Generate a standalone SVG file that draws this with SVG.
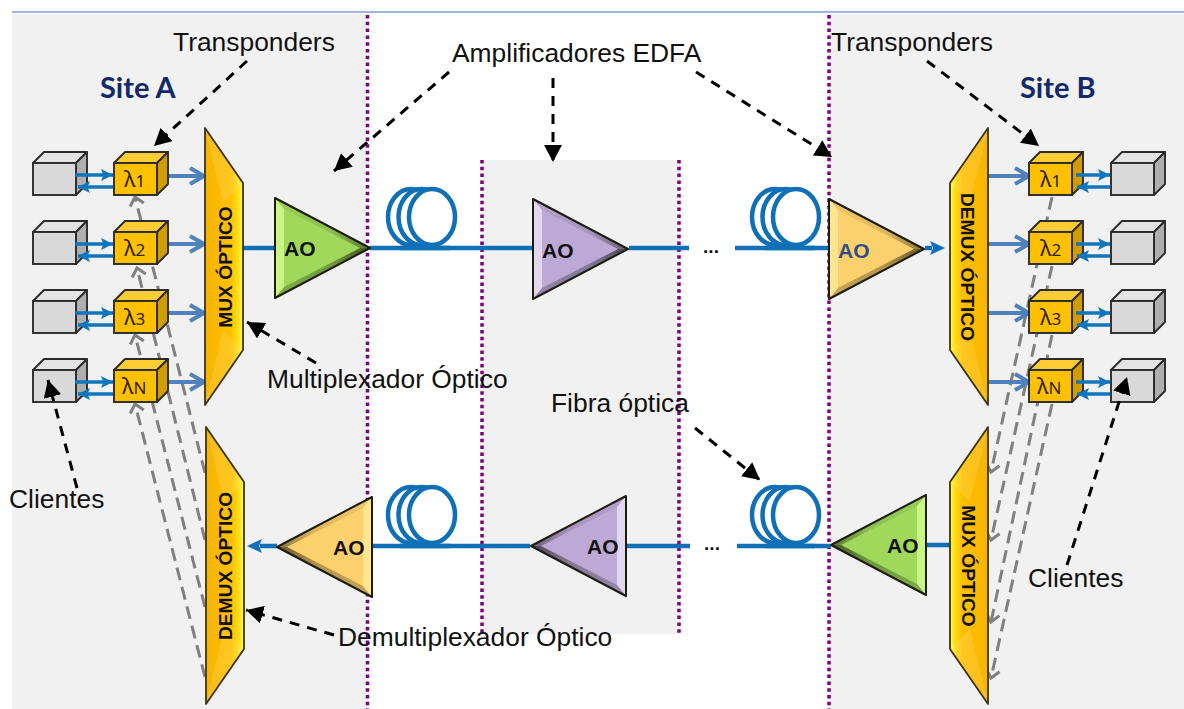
<svg xmlns="http://www.w3.org/2000/svg" xmlns:xlink="http://www.w3.org/1999/xlink" width="1184" height="709" viewBox="0 0 1184 709">
<style>
text{font-family:"Liberation Sans",Arial,sans-serif;fill:#111}
.lbl{font-size:26.4px}
.site{font-family:Lato,"Open Sans",sans-serif;font-weight:700;font-size:29px;fill:#12296b}
.ao{font-size:21px;font-weight:700}
.mt{font-size:19.2px;font-weight:700;text-anchor:middle}
.lam{font-family:"Noto Sans",sans-serif;font-size:22px;fill:#2e2200}
.lam tspan{font-size:17px}
.dots{font-size:19px;text-anchor:middle;font-weight:700}
.pd{stroke:#800080;stroke-width:3.500;stroke-dasharray:3.500 3.300;fill:none}
.fiber{stroke:#0f70b7;stroke-width:4.500;fill:none}
.coil{stroke:#0f70b7;stroke-width:4.500;fill:#fff}
.cd{stroke:#808080;stroke-width:3;stroke-dasharray:13 7;fill:none;marker-end:url(#mGray)}
.bb{stroke:#4f81bd;stroke-width:4;fill:none;marker-end:url(#mBlue)}
.sb{stroke:#0f75bc;stroke-width:3.500;fill:none;marker-end:url(#mSmall)}
.call{stroke:#000;stroke-width:3;stroke-dasharray:10 8;fill:none;marker-end:url(#mBlack)}
.client{--fr:#d9d9d9;--tp:#e4e4e4;--sd:#afafaf}
.tr{--fr:#ffc000;--tp:#ffcc33;--sd:#cf9d00}
.green{--b:#9fd85a;--l:#c9f585}
.purple{--b:#bda9d6;--l:#e2d6f0}
.orange{--b:#fcd06c;--l:#ffe58f}
</style>
<defs>
<marker id="mBlack" markerUnits="userSpaceOnUse" markerWidth="18" markerHeight="18" refX="19" refY="10" orient="auto" viewBox="0 0 20 20"><path d="M0,0 L19,10 L0,20 Z" fill="#000"/></marker>
<marker id="mGray" markerUnits="userSpaceOnUse" markerWidth="20" markerHeight="20" refX="10" refY="10" orient="auto" viewBox="0 0 20 20"><path d="M2,3 L10,10 L2,17" fill="none" stroke="#808080" stroke-width="3"/></marker>
<marker id="mBlue" markerUnits="userSpaceOnUse" markerWidth="24" markerHeight="24" refX="20" refY="12" orient="auto" viewBox="0 0 24 24"><path d="M6,4 L20,12 L6,20" fill="none" stroke="#4f81bd" stroke-width="4"/></marker>
<marker id="mSmall" markerUnits="userSpaceOnUse" markerWidth="16" markerHeight="16" refX="13" refY="8" orient="auto" viewBox="0 0 16 16"><path d="M1,2 L13,8 L1,14 L3.500,8 Z" fill="#0f75bc"/></marker>
<linearGradient id="gMux" x1="0" x2="1" y1="0" y2="0"><stop offset="0" stop-color="#f8b400"/><stop offset=".68" stop-color="#ffc000"/><stop offset=".88" stop-color="#ffdf1a"/><stop offset="1" stop-color="#ffff40"/></linearGradient>
<linearGradient id="gTop" x1="0" x2="1" y1="0" y2="0"><stop offset="0" stop-color="#000" stop-opacity=".04"/><stop offset=".6" stop-color="#000" stop-opacity=".12"/><stop offset="1" stop-color="#000" stop-opacity=".45"/></linearGradient>
<linearGradient id="gBot" x1="0" x2="1" y1="0" y2="0"><stop offset="0" stop-color="#000" stop-opacity=".2"/><stop offset=".6" stop-color="#000" stop-opacity=".3"/><stop offset="1" stop-color="#000" stop-opacity=".6"/></linearGradient>
<g id="cube">
<polygon points="0,0 11,-11 54,-11 43,0" style="fill:var(--tp)" stroke="#2b2b2b" stroke-width="1.900" stroke-linejoin="round"/>
<polygon points="43,0 54,-11 54,21 43,32" style="fill:var(--sd)" stroke="#2b2b2b" stroke-width="1.900" stroke-linejoin="round"/>
<rect x="0" y="0" width="43" height="32" style="fill:var(--fr)" stroke="#2b2b2b" stroke-width="1.900"/>
</g>
<g id="amp">
<polygon points="0,-50 95,0 0,50" style="fill:var(--b)"/>
<polygon points="0,-50 9,-39 9,39 0,50" style="fill:var(--l)"/>
<polygon points="0,-50 95,0 85,0 9,-39" fill="url(#gTop)"/>
<polygon points="0,50 95,0 85,0 9,39" fill="url(#gBot)"/>
<polygon points="0,-50 95,0 0,50" fill="none" stroke="#1c1c10" stroke-width="2" stroke-linejoin="round"/>
</g>
<g id="mux">
<polygon points="0,0 38,55 38,222 0,277" fill="url(#gMux)"/>
<polygon points="0,0 38,55 18,75" fill="#fff" opacity=".12"/>
<polygon points="0,277 38,222 18,202" fill="#fff" opacity=".12"/>
<polygon points="0,0 38,55 38,222 0,277" fill="none" stroke="#3a3316" stroke-width="1.800" stroke-linejoin="round"/>
</g>
<g id="coil">
<ellipse class="coil" cx="-21" cy="0" rx="23" ry="28"/>
<ellipse class="coil" cx="-10.500" cy="0" rx="23" ry="28"/>
<ellipse class="coil" cx="0" cy="0" rx="23" ry="28"/>
</g>
</defs>

<g id="background">
<rect width="1184" height="709" fill="#fff"/>
<rect x="12" y="14" width="355" height="695" fill="#f1f1f1"/>
<rect x="829" y="14" width="355" height="695" fill="#f1f1f1"/>
<rect x="482" y="160" width="198" height="474" fill="#f1f1f1"/>
<line x1="12" y1="12" x2="1184" y2="12" stroke="#7f9fd0" stroke-width="1.500"/>
<line class="pd" x1="367.500" y1="15" x2="367.500" y2="709"/>
<line class="pd" x1="829" y1="15" x2="829" y2="709"/>
<line class="pd" x1="482" y1="160" x2="482" y2="634"/>
<line class="pd" x1="679" y1="160" x2="679" y2="634"/>
</g>

<g id="connectors">
<line class="fiber" x1="243" y1="248" x2="275" y2="248"/>
<line class="fiber" x1="370" y1="248" x2="533" y2="248"/>
<line class="fiber" x1="629" y1="248" x2="689" y2="248"/>
<line class="fiber" x1="735" y1="248" x2="829" y2="248"/>
<line class="fiber" x1="925" y1="248" x2="932" y2="248"/>
<path d="M930,241 L945,248 L930,255 L933,248 Z" fill="#0f70b7"/>
<line class="fiber" x1="372" y1="546" x2="530" y2="546"/>
<line class="fiber" x1="626" y1="546" x2="690" y2="546"/>
<line class="fiber" x1="737" y1="546" x2="830" y2="546"/>
<line class="fiber" x1="926" y1="545" x2="950" y2="545"/>
<line class="fiber" x1="260" y1="546" x2="277" y2="546"/>
<path d="M262,539 L247,546 L262,553 L259,546 Z" fill="#0f70b7"/>

<line class="cd" x1="205" y1="473" x2="135" y2="197"/>
<line class="cd" x1="205" y1="540" x2="137" y2="268"/>
<line class="cd" x1="205" y1="607" x2="135" y2="335"/>
<line class="cd" x1="205" y1="677" x2="135" y2="404"/>
<line class="cd" x1="1052" y1="197" x2="991" y2="472"/>
<line class="cd" x1="1052" y1="266" x2="991" y2="540"/>
<line class="cd" x1="1052" y1="335" x2="991" y2="622"/>
<line class="cd" x1="1052" y1="404" x2="991" y2="678"/>

<line class="bb" x1="160" y1="176" x2="204" y2="176"/>
<line class="bb" x1="160" y1="244" x2="204" y2="244"/>
<line class="bb" x1="160" y1="313" x2="204" y2="313"/>
<line class="bb" x1="160" y1="382" x2="204" y2="382"/>
<line class="bb" x1="988" y1="176" x2="1029" y2="176"/>
<line class="bb" x1="988" y1="244" x2="1029" y2="244"/>
<line class="bb" x1="988" y1="313" x2="1029" y2="313"/>
<line class="bb" x1="988" y1="382" x2="1029" y2="382"/>
</g>

<g id="coil-1"><use xlink:href="#coil" href="#coil" x="432" y="217"/></g>
<g id="coil-2"><use xlink:href="#coil" href="#coil" x="796" y="217"/></g>
<g id="coil-3"><use xlink:href="#coil" href="#coil" x="432" y="515"/></g>
<g id="coil-4"><use xlink:href="#coil" href="#coil" x="796" y="515"/></g>
<g id="fiber-over">
<line class="fiber" x1="400" y1="248" x2="450" y2="248"/>
<line class="fiber" x1="765" y1="248" x2="815" y2="248"/>
<line class="fiber" x1="400" y1="546" x2="450" y2="546"/>
<line class="fiber" x1="765" y1="546" x2="815" y2="546"/>
</g>
<text class="dots" x="711" y="253">...</text>
<text class="dots" x="712" y="550">...</text>

<g id="client-a1" class="client"><use href="#cube" x="33" y="163"/></g>
<g id="client-a2" class="client"><use href="#cube" x="33" y="232"/></g>
<g id="client-a3" class="client"><use href="#cube" x="33" y="301"/></g>
<g id="client-a4" class="client"><use href="#cube" x="33" y="370"/></g>
<g id="tr-a1" class="tr"><use href="#cube" x="114" y="163"/><text class="lam" x="124" y="187">λ<tspan>1</tspan></text></g>
<g id="tr-a2" class="tr"><use href="#cube" x="114" y="232"/><text class="lam" x="124" y="256">λ<tspan>2</tspan></text></g>
<g id="tr-a3" class="tr"><use href="#cube" x="114" y="301"/><text class="lam" x="124" y="325">λ<tspan>3</tspan></text></g>
<g id="tr-a4" class="tr"><use href="#cube" x="114" y="370"/><text class="lam" x="122" y="394">λ<tspan>N</tspan></text></g>
<g id="tr-b1" class="tr"><use href="#cube" x="1029" y="163"/><text class="lam" x="1040" y="187">λ<tspan>1</tspan></text></g>
<g id="tr-b2" class="tr"><use href="#cube" x="1029" y="232"/><text class="lam" x="1040" y="256">λ<tspan>2</tspan></text></g>
<g id="tr-b3" class="tr"><use href="#cube" x="1029" y="301"/><text class="lam" x="1040" y="325">λ<tspan>3</tspan></text></g>
<g id="tr-b4" class="tr"><use href="#cube" x="1029" y="370"/><text class="lam" x="1037" y="394">λ<tspan>N</tspan></text></g>
<g id="client-b1" class="client"><use href="#cube" x="1111" y="163"/></g>
<g id="client-b2" class="client"><use href="#cube" x="1111" y="232"/></g>
<g id="client-b3" class="client"><use href="#cube" x="1111" y="301"/></g>
<g id="client-b4" class="client"><use href="#cube" x="1111" y="370"/></g>

<g id="client-arrows">
<line class="sb" x1="75" y1="175" x2="113" y2="175"/><line class="sb" x1="113" y1="187" x2="78" y2="187"/>
<line class="sb" x1="75" y1="244" x2="113" y2="244"/><line class="sb" x1="113" y1="256" x2="78" y2="256"/>
<line class="sb" x1="75" y1="313" x2="113" y2="313"/><line class="sb" x1="113" y1="325" x2="78" y2="325"/>
<line class="sb" x1="75" y1="382" x2="113" y2="382"/><line class="sb" x1="113" y1="394" x2="78" y2="394"/>
<line class="sb" x1="1076" y1="175" x2="1110" y2="175"/><line class="sb" x1="1110" y1="187" x2="1077" y2="187"/>
<line class="sb" x1="1076" y1="244" x2="1110" y2="244"/><line class="sb" x1="1110" y1="256" x2="1077" y2="256"/>
<line class="sb" x1="1076" y1="313" x2="1110" y2="313"/><line class="sb" x1="1110" y1="325" x2="1077" y2="325"/>
<line class="sb" x1="1076" y1="382" x2="1110" y2="382"/><line class="sb" x1="1110" y1="394" x2="1077" y2="394"/>
</g>

<g id="mux-a"><use href="#mux" transform="translate(205,128)"/><text class="mt" transform="translate(232,267) rotate(-90)">MUX ÓPTICO</text></g>
<g id="demux-a"><use href="#mux" transform="translate(206,427)"/><text class="mt" transform="translate(232,566) rotate(-90)">DEMUX ÓPTICO</text></g>
<g id="demux-b"><use href="#mux" transform="translate(988,128) scale(-1,1)"/><text class="mt" transform="translate(961,267) rotate(90)">DEMUX ÓPTICO</text></g>
<g id="mux-b"><use href="#mux" transform="translate(988,427) scale(-1,1)"/><text class="mt" transform="translate(962,566) rotate(90)">MUX ÓPTICO</text></g>

<g id="ao-top-a" class="green"><use href="#amp" transform="translate(275,248)"/><text class="ao" x="284" y="256">AO</text></g>
<g id="ao-top-m" class="purple"><use href="#amp" transform="translate(533,249)"/><text class="ao" x="542" y="258">AO</text></g>
<g id="ao-top-b" class="orange"><use href="#amp" transform="translate(829,249)"/><text class="ao" x="838" y="258" style="fill:#2f4f86">AO</text></g>
<g id="ao-bot-a" class="orange"><use href="#amp" transform="translate(372,547) scale(-1,1)"/><text class="ao" x="333" y="555">AO</text></g>
<g id="ao-bot-m" class="purple"><use href="#amp" transform="translate(626,546) scale(-1,1)"/><text class="ao" x="587" y="554">AO</text></g>
<g id="ao-bot-b" class="green"><use href="#amp" transform="translate(926,545) scale(-1,1)"/><text class="ao" x="887" y="553">AO</text></g>

<g id="callouts">
<line class="call" x1="247" y1="61" x2="154" y2="146"/>
<line class="call" x1="927" y1="61" x2="1039" y2="146"/>
<line class="call" x1="449" y1="72" x2="334" y2="171"/>
<line class="call" x1="553" y1="78" x2="553" y2="162"/>
<line class="call" x1="696" y1="72" x2="832" y2="157"/>
<line class="call" x1="316" y1="363" x2="247" y2="322"/>
<line class="call" x1="77" y1="488" x2="48" y2="380"/>
<line class="call" x1="1067" y1="565" x2="1127" y2="377"/>
<line class="call" x1="695" y1="428" x2="760" y2="480"/>
<line class="call" x1="334" y1="635" x2="246" y2="610"/>
</g>

<g id="labels">
<text class="site" x="100" y="98">Site A</text>
<text class="site" x="1020" y="98">Site B</text>
<text class="lbl" x="173" y="51">Transponders</text>
<text class="lbl" x="831" y="51">Transponders</text>
<text class="lbl" x="452" y="62">Amplificadores EDFA</text>
<text class="lbl" x="267" y="388">Multiplexador Óptico</text>
<text class="lbl" x="551" y="412">Fibra óptica</text>
<text class="lbl" x="9" y="508">Clientes</text>
<text class="lbl" x="1028" y="587">Clientes</text>
<text class="lbl" x="338" y="646">Demultiplexador Óptico</text>
</g>
</svg>
